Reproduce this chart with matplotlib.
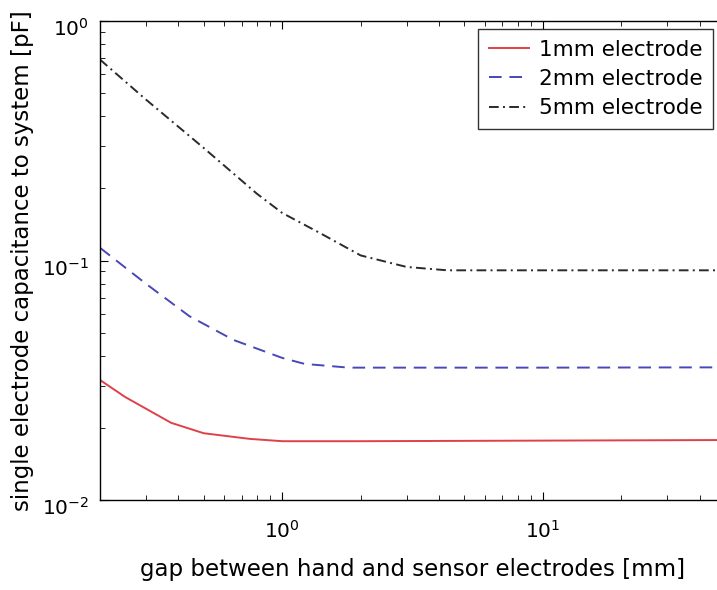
import numpy as np
import matplotlib
matplotlib.use('Agg')
import matplotlib.pyplot as plt
import matplotlib.transforms as mtransforms

plt.rcParams['font.family'] = ['DejaVu Sans']
plt.rcParams['mathtext.fontset'] = 'dejavusans'

# gap between hand and sensor electrodes [mm], capacitance [pF]
gap_1mm = [0.2, 0.25, 0.375, 0.5, 0.75, 1.0, 2.0, 10.0, 50.0]
c_1mm = [0.0317, 0.0269, 0.0210, 0.0190, 0.0180, 0.0176, 0.0176, 0.0177, 0.0178]

gap_2mm = [0.2, 0.3, 0.44, 0.65, 1.0, 1.22, 1.8, 10.0, 50.0]
c_2mm = [0.113, 0.080, 0.0586, 0.0466, 0.0392, 0.0370, 0.0357, 0.0357, 0.0358]

gap_5mm = [0.2, 0.3, 0.5, 0.8, 1.0, 1.4, 2.0, 3.0, 4.3, 10.0, 50.0]
c_5mm = [0.69, 0.47, 0.295, 0.19, 0.158, 0.130, 0.105, 0.094, 0.091, 0.091, 0.091]

fig = plt.figure(figsize=(7.17, 5.9), dpi=100)
ax = fig.add_axes([100/717, 90/590, 625/717, 479/590])

ax.loglog(gap_1mm, c_1mm, color='#e0404a', lw=1.4, label='1mm electrode')
ax.loglog(gap_2mm, c_2mm, color='#4848b8', lw=1.4, ls=(0, (6.5, 4)), label='2mm electrode')
ax.loglog(gap_5mm, c_5mm, color='#2a2a2a', lw=1.4, ls=(0, (5, 2.2, 1, 2.2)), label='5mm electrode')

ax.set_xlim(0.2, 50)
ax.set_ylim(1e-2, 1)
ax.tick_params(which='both', direction='in', top=True, right=True, labelsize=14.5)
ax.tick_params(which='major', length=6, width=0.8)
ax.tick_params(which='minor', length=3.5, width=0.6)
ax.tick_params(axis='x', pad=14)
ax.tick_params(axis='y', pad=8)
ax.set_xticks([1, 10])
ax.set_yticks([1e-2, 1e-1, 1])
for s in ax.spines.values():
    s.set_linewidth(1.0)

# matlab puts the y tick labels a bit lower
offset = mtransforms.ScaledTranslation(0, -6/100, fig.dpi_scale_trans)
for lab in ax.get_yticklabels():
    lab.set_transform(lab.get_transform() + offset)

ax.set_xlabel('gap between hand and sensor electrodes [mm]', fontsize=16.5, labelpad=12)
ax.set_ylabel('single electrode capacitance to system [pF]', fontsize=16.5)
ax.yaxis.set_label_coords(-0.105, 0.5)

leg = ax.legend(loc='upper right', bbox_to_anchor=(713/717, 1 - 29/590), bbox_transform=fig.transFigure,
                fontsize=15.5, frameon=True, fancybox=False, edgecolor='black',
                handlelength=1.85, handletextpad=0.45, labelspacing=0.43, borderpad=0.5, borderaxespad=0)
leg.get_frame().set_linewidth(1.0)

fig.savefig('out.png', dpi=100)
